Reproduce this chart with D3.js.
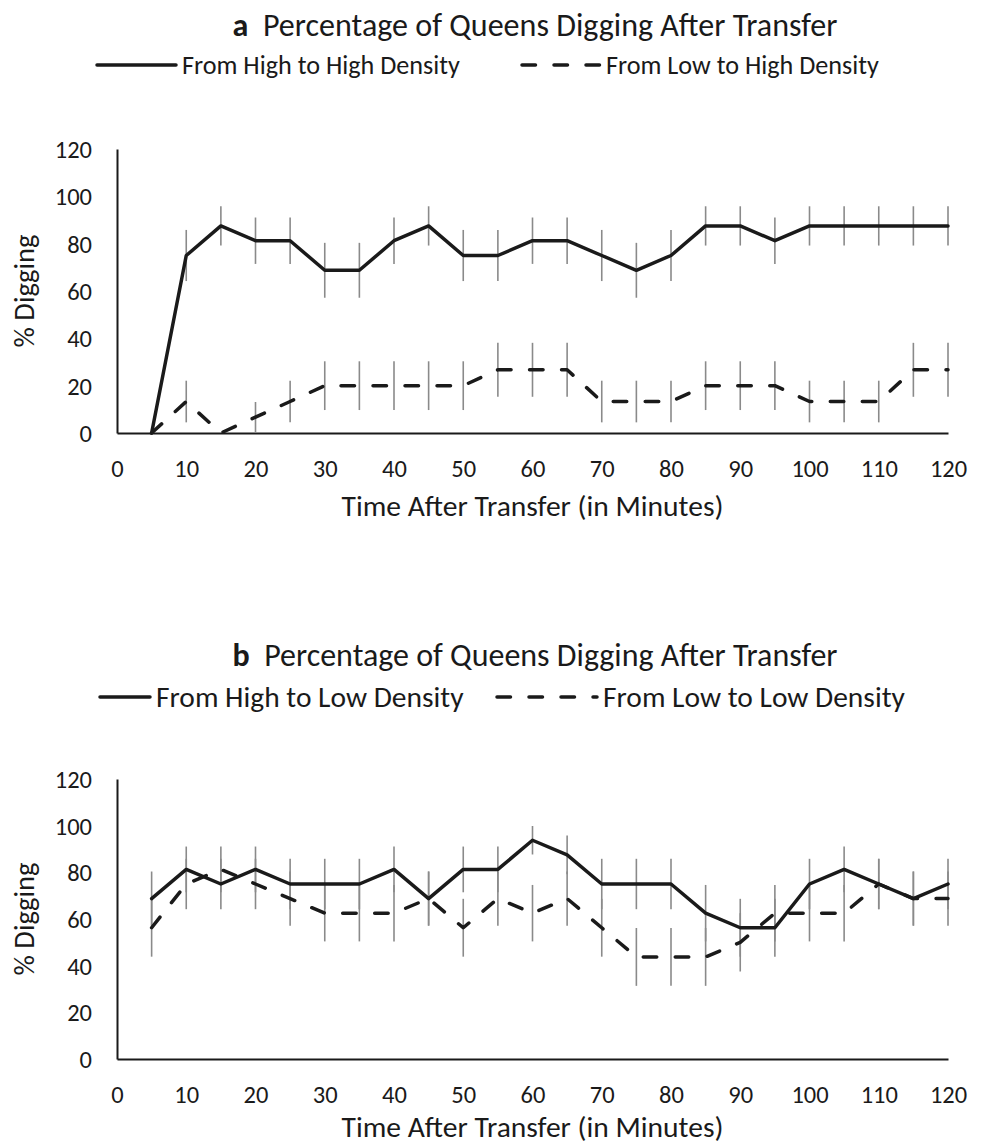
<!DOCTYPE html>
<html>
<head>
<meta charset="utf-8">
<script src="https://cdn.jsdelivr.net/npm/d3@7"></script>
<style>
  body { margin: 0; background: #fff; }
  text { font-family: Carlito, Calibri, Lato, sans-serif; fill: #1a1a1a; }
</style>
</head>
<body>
<svg id="chart" width="983" height="1148"></svg>
<script>
// time points (minutes after transfer)
const times = [5, 10, 15, 20, 25, 30, 35, 40, 45, 50, 55, 60, 65, 70, 75, 80, 85, 90, 95, 100, 105, 110, 115, 120];
const xTicks = [0, 10, 20, 30, 40, 50, 60, 70, 80, 90, 100, 110, 120];
const yTicks = [0, 20, 40, 60, 80, 100, 120];

// panel a
const highToHigh    = [0, 75, 87.5, 81.25, 81.25, 68.75, 68.75, 81.25, 87.5, 75, 75, 81.25, 81.25, 75, 68.75, 75, 87.5, 87.5, 81.25, 87.5, 87.5, 87.5, 87.5, 87.5];
const highToHighErr = [0, 10.8, 8.3, 9.8, 9.8, 11.6, 11.6, 9.8, 8.3, 10.8, 10.8, 9.8, 9.8, 10.8, 11.6, 10.8, 8.3, 8.3, 9.8, 8.3, 8.3, 8.3, 8.3, 8.3];
const lowToHigh     = [0, 13.3, 0, 6.7, 13.3, 20, 20, 20, 20, 20, 26.7, 26.7, 26.7, 13.3, 13.3, 13.3, 20, 20, 20, 13.3, 13.3, 13.3, 26.7, 26.7];
const lowToHighErr  = [0, 8.8, 0, 6.4, 8.8, 10.3, 10.3, 10.3, 10.3, 10.3, 11.4, 11.4, 11.4, 8.8, 8.8, 8.8, 10.3, 10.3, 10.3, 8.8, 8.8, 8.8, 11.4, 11.4];

// panel b
const highToLow     = [68.75, 81.25, 75, 81.25, 75, 75, 75, 81.25, 68.75, 81.25, 81.25, 93.75, 87.5, 75, 75, 75, 62.5, 56.25, 56.25, 75, 81.25, 75, 68.75, 75];
const highToLowErr  = [11.6, 9.8, 10.8, 9.8, 10.8, 10.8, 10.8, 9.8, 11.6, 9.8, 9.8, 6.1, 8.3, 10.8, 10.8, 10.8, 12.1, 12.4, 12.4, 10.8, 9.8, 10.8, 11.6, 10.8];
const lowToLow      = [56.25, 75, 81.25, 75, 68.75, 62.5, 62.5, 62.5, 68.75, 56.25, 68.75, 62.5, 68.75, 56.25, 43.75, 43.75, 43.75, 50, 62.5, 62.5, 62.5, 75, 68.75, 68.75];
const lowToLowErr   = [12.4, 10.8, 9.8, 10.8, 11.6, 12.1, 12.1, 12.1, 11.6, 12.4, 11.6, 12.1, 11.6, 12.4, 12.4, 12.4, 12.4, 12.5, 12.1, 12.1, 12.1, 10.8, 11.6, 11.6];

const titleText = "Percentage of Queens Digging After Transfer";
const xTitle = "Time After Transfer (in Minutes)";
const yTitle = "% Digging";

const svg = d3.select("#chart");
const left = 117, right = 948;
const dash = "13.5,18.5";

// fit a text to a pixel width by changing its font size
function fit(sel, w) {
    const base = 20;
    sel.style("font-size", base + "px");
    const len = sel.node().getComputedTextLength();
    const size = base * w / len;
    sel.style("font-size", size.toFixed(2) + "px");
    return size;
}

function panel(p) {
    const x = d3.scaleLinear().domain([0, 120]).range([left, right]);
    const y = d3.scaleLinear().domain([0, 120]).range([p.bottom, p.top]);
    const g = svg.append("g");

    // title
    const t = g.append("text")
        .attr("x", 535).attr("y", p.titleY).attr("dy", "0.35em")
        .attr("text-anchor", "middle");
    t.append("tspan").style("font-weight", "bold").text(p.letter);
    t.append("tspan").text("\u00a0\u00a0" + titleText);
    fit(t, 605);

    // legend
    const texts = p.legend.map((l, i) => {
        g.append("line")
            .attr("x1", l.x1).attr("x2", l.x2)
            .attr("y1", p.legendY).attr("y2", p.legendY)
            .attr("stroke", "#1a1a1a").attr("stroke-width", 3.5)
            .attr("stroke-linecap", "round")
            .attr("stroke-dasharray", i == 1 ? dash : null);
        return g.append("text")
            .attr("x", l.x2 + 6).attr("y", p.legendY).attr("dy", "0.35em")
            .text(l.name);
    });
    const ls = fit(texts[1], p.legendW);
    texts[0].style("font-size", ls.toFixed(2) + "px");

    // axes
    const xa = g.append("g")
        .attr("transform", "translate(0," + p.bottom + ")")
        .call(d3.axisBottom(x).tickValues(xTicks).tickSize(0).tickSizeOuter(0));
    xa.selectAll("text").attr("y", 35).attr("dy", "0.35em");

    const ya = g.append("g")
        .attr("transform", "translate(" + left + ",0)")
        .call(d3.axisLeft(y).tickValues(yTicks).tickSize(0).tickSizeOuter(0));
    ya.selectAll("text").attr("x", -25).attr("dy", "0.35em");

    [xa, ya].forEach(a => a.attr("font-family", null));
    g.selectAll(".domain").attr("stroke", "#1a1a1a").attr("stroke-width", 2);
    g.selectAll(".tick text").attr("fill", "#1a1a1a").style("font-size", "24.5px");

    g.append("text")
        .attr("x", (left + right) / 2).attr("y", p.xTitleY).attr("dy", "0.35em")
        .attr("text-anchor", "middle").text(xTitle)
        .call(s => fit(s, 382));

    g.append("text")
        .attr("transform", "translate(24," + (p.top + p.bottom) / 2 + ") rotate(-90)")
        .attr("dy", "0.35em")
        .attr("text-anchor", "middle").text(yTitle)
        .call(s => fit(s, 113));

    // error bars, then lines
    p.series.forEach(s => {
        g.append("g").selectAll("line")
            .data(times.map((t, i) => ({t: t, v: s.values[i], e: s.err[i]})).filter(d => d.e > 0))
            .enter().append("line")
            .attr("x1", d => x(d.t)).attr("x2", d => x(d.t))
            .attr("y1", d => y(d.v - d.e)).attr("y2", d => y(d.v + d.e))
            .attr("stroke", "#8a8a8a").attr("stroke-width", 1.6);
    });

    const line = d3.line().x((d, i) => x(times[i])).y(d => y(d));
    p.series.forEach((s, k) => {
        g.append("path")
            .datum(s.values)
            .attr("d", line)
            .attr("fill", "none")
            .attr("stroke", "#1a1a1a").attr("stroke-width", 3.5)
            .attr("stroke-linejoin", "round")
            .attr("stroke-linecap", "round")
            .attr("stroke-dasharray", k == 1 ? dash : null);
    });
}

panel({
    letter: "a", titleY: 25, legendY: 65, top: 149, bottom: 433, xTitleY: 506, legendW: 273,
    legend: [{name: "From High to High Density", x1: 97, x2: 176},
             {name: "From Low to High Density", x1: 522, x2: 600}],
    series: [{values: highToHigh, err: highToHighErr}, {values: lowToHigh, err: lowToHighErr}]
});

panel({
    letter: "b", titleY: 655, legendY: 697, top: 779, bottom: 1059, xTitleY: 1127, legendW: 302,
    legend: [{name: "From High to Low Density", x1: 100, x2: 150},
             {name: "From Low to Low Density", x1: 497, x2: 597}],
    series: [{values: highToLow, err: highToLowErr}, {values: lowToLow, err: lowToLowErr}]
});
</script>
</body>
</html>
